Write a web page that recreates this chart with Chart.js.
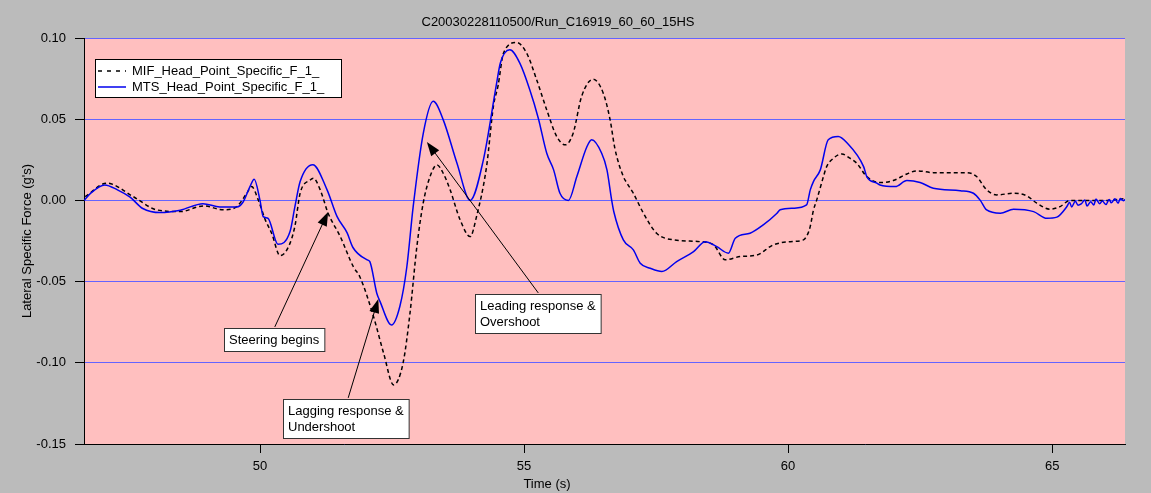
<!DOCTYPE html>
<html>
<head>
<meta charset="utf-8">
<title>Lateral Specific Force</title>
<script src="https://cdn.jsdelivr.net/npm/chart.js"></script>
<style>
  html, body { margin: 0; padding: 0; background: #bbbbbb; }
  canvas { display: block; }
</style>
</head>
<body>
<canvas id="chart" width="1151" height="493"></canvas>
<script>
// Labels
const chartTitle = "C20030228110500/Run_C16919_60_60_15HS";
const xTitle = "Time (s)";
const yTitle = "Lateral Specific Force (g's)";
const seriesNames = ["MIF_Head_Point_Specific_F_1_", "MTS_Head_Point_Specific_F_1_"];

// Axes
const xRange = [46.667, 66.38];
const xTicks = [50, 55, 60, 65];
const yTicks = [-0.15, -0.10, -0.05, 0.00, 0.05, 0.10];

// MIF (dashed black)
const mifTime = [46.69, 47.10, 47.60, 48.04, 48.49, 48.93, 49.31, 49.56, 49.75, 49.84,
  49.97, 50.10, 50.22, 50.38, 50.54, 50.66, 50.76, 50.95, 51.01, 51.14,
  51.29, 51.52, 51.77, 51.89, 52.15, 52.34, 52.53, 52.71, 52.84, 52.97,
  53.09, 53.22, 53.35, 53.47, 53.60, 53.79, 53.98, 54.10, 54.29, 54.42,
  54.51, 54.61, 54.86, 55.05, 55.24, 55.43, 55.62, 55.78, 55.93, 56.09,
  56.31, 56.50, 56.63, 56.72, 56.88, 56.95, 57.07, 57.26, 57.51, 57.83,
  58.33, 58.59, 58.81, 59.09, 59.41, 59.72, 60.04, 60.29, 60.36, 60.42,
  60.48, 60.54, 60.67, 60.73, 60.86, 61.02, 61.17, 61.30, 61.49, 61.74,
  61.99, 62.25, 62.44, 62.75, 63.38, 63.57, 63.76, 63.95, 64.27, 64.52,
  64.71, 64.96, 65.15, 65.34, 65.66, 66.04, 66.35];
const mifValue = [0.0023, 0.0106, 0.0023, -0.0058, -0.0069, -0.0034, -0.0058, -0.0038, 0.0044, 0.0085,
  0.0000, -0.0120, -0.0202, -0.0340, -0.0285, -0.0160, 0.0044, 0.0126, 0.0137, 0.0065,
  -0.0079, -0.0223, -0.0410, -0.0470, -0.0716, -0.0940, -0.1136, -0.1000, -0.0695, -0.0285,
  -0.0017, 0.0147, 0.0219, 0.0167, 0.0065, -0.0120, -0.0223, -0.0100, 0.0208, 0.0580,
  0.0710, 0.0906, 0.0972, 0.0906, 0.0742, 0.0557, 0.0393, 0.0342, 0.0414, 0.0640,
  0.0746, 0.0660, 0.0496, 0.0320, 0.0147, 0.0106, 0.0044, -0.0079, -0.0202, -0.0243,
  -0.0254, -0.0274, -0.0366, -0.0346, -0.0336, -0.0274, -0.0254, -0.0243, -0.0215, -0.0160,
  -0.0060, 0.0000, 0.0147, 0.0208, 0.0260, 0.0286, 0.0260, 0.0229, 0.0147, 0.0110,
  0.0122, 0.0163, 0.0182, 0.0171, 0.0171, 0.0147, 0.0065, 0.0034, 0.0044, 0.0028,
  -0.0017, -0.0054, -0.0038, 0.0000, 0.0000, 0.0000, 0.0010];

// MTS (solid blue)
const mtsTime = [46.67, 46.80, 47.06, 47.30, 47.54, 47.78, 48.11, 48.49, 48.92, 49.24,
  49.56, 49.68, 49.81, 49.89, 50.00, 50.06, 50.15, 50.34, 50.57, 50.66,
  50.76, 51.00, 51.27, 51.46, 51.65, 51.76, 52.03, 52.08, 52.21, 52.27,
  52.49, 52.65, 52.78, 52.90, 53.09, 53.28, 53.47, 53.73, 53.98, 54.23,
  54.48, 54.55, 54.73, 54.92, 55.11, 55.27, 55.43, 55.56, 55.68, 55.84,
  56.00, 56.19, 56.28, 56.47, 56.57, 56.66, 56.70, 56.88, 57.07, 57.20,
  57.39, 57.61, 57.89, 58.21, 58.43, 58.65, 58.87, 59.00, 59.28, 59.53,
  59.79, 59.85, 60.10, 60.35, 60.42, 60.48, 60.61, 60.76, 60.95, 61.11,
  61.43, 61.49, 61.68, 61.74, 62.03, 62.25, 62.50, 62.75, 63.26, 63.51,
  63.64, 63.76, 64.02, 64.27, 64.65, 64.90, 65.09, 65.28, 65.33, 65.37,
  65.44, 65.49, 65.55, 65.62, 65.66, 65.73, 65.79, 65.83, 65.90, 65.95,
  66.02, 66.08, 66.12, 66.19, 66.25, 66.29, 66.35, 66.38];
const mtsValue = [0.0000, 0.0046, 0.0095, 0.0065, 0.0020, -0.0050, -0.0075, -0.0060, -0.0020, -0.0040,
  -0.0040, -0.0010, 0.0085, 0.0130, 0.0000, -0.0100, -0.0110, -0.0270, -0.0190, -0.0040,
  0.0116, 0.0220, 0.0065, -0.0100, -0.0200, -0.0290, -0.0366, -0.0377, -0.0570, -0.0620,
  -0.0767, -0.0650, -0.0410, -0.0040, 0.0410, 0.0610, 0.0496, 0.0229, 0.0000, 0.0250,
  0.0720, 0.0845, 0.0927, 0.0845, 0.0680, 0.0506, 0.0290, 0.0188, 0.0044, 0.0000,
  0.0147, 0.0330, 0.0373, 0.0290, 0.0188, 0.0000, -0.0070, -0.0243, -0.0305, -0.0387,
  -0.0418, -0.0438, -0.0377, -0.0315, -0.0254, -0.0285, -0.0325, -0.0233, -0.0202, -0.0151,
  -0.0079, -0.0058, -0.0048, -0.0028, 0.0065, 0.0116, 0.0188, 0.0373, 0.0393, 0.0356,
  0.0208, 0.0147, 0.0106, 0.0095, 0.0085, 0.0122, 0.0110, 0.0075, 0.0060, 0.0044,
  0.0000, -0.0059, -0.0079, -0.0054, -0.0069, -0.0110, -0.0103, -0.0038, -0.0012, -0.0040,
  -0.0005, -0.0030, -0.0022, 0.0003, -0.0035, -0.0008, -0.0028, 0.0008, -0.0020, -0.0004,
  -0.0026, 0.0006, -0.0015, 0.0010, -0.0018, 0.0012, -0.0002, 0.0006];

// Callouts: arrow tip, arrow tail and box top-left, in data units
const notes = [
  { lines: ["Steering begins"], tip: [51.29, -0.0071], tail: [50.28, -0.0779], box: [49.32, -0.0785] },
  { lines: ["Lagging response &", "Undershoot"], tip: [52.24, -0.0607], tail: [51.67, -0.1216], box: [50.44, -0.1222] },
  { lines: ["Leading response &", "Overshoot"], tip: [53.16, 0.0360], tail: [55.27, -0.0570], box: [54.07, -0.0576] }
];

const FONT = "13px 'Liberation Sans', Arial, sans-serif";
Chart.defaults.font.family = "'Liberation Sans', Arial, sans-serif";
Chart.defaults.font.size = 13;
Chart.defaults.color = "#000";

function drawArrow(ctx, x0, y0, x1, y1) {
  const a = Math.atan2(y1 - y0, x1 - x0);
  const len = 14, half = 5;
  ctx.beginPath();
  ctx.moveTo(x0, y0);
  ctx.lineTo(x1 - Math.cos(a) * len * 0.8, y1 - Math.sin(a) * len * 0.8);
  ctx.stroke();
  ctx.beginPath();
  ctx.moveTo(x1, y1);
  ctx.lineTo(x1 - Math.cos(a) * len - Math.sin(a) * half, y1 - Math.sin(a) * len + Math.cos(a) * half);
  ctx.lineTo(x1 - Math.cos(a) * len + Math.sin(a) * half, y1 - Math.sin(a) * len - Math.cos(a) * half);
  ctx.closePath();
  ctx.fill();
}

const paper = {
  id: "paper",
  beforeDraw(chart) {
    const { ctx, chartArea: a } = chart;
    ctx.save();
    ctx.fillStyle = "#bbbbbb";
    ctx.fillRect(0, 0, chart.width, chart.height);
    ctx.fillStyle = "#ffbfbf";
    ctx.fillRect(a.left, a.top, a.right - a.left, a.bottom - a.top);
    ctx.restore();
  },
  afterDraw(chart) {
    const { ctx, scales } = chart;
    const X = v => scales.x.getPixelForValue(v);
    const Y = v => scales.y.getPixelForValue(v);
    ctx.save();
    ctx.font = FONT;
    ctx.fillStyle = "#000";
    ctx.textBaseline = "middle";

    // titles
    ctx.textAlign = "center";
    ctx.fillText(chartTitle, 558, 22);
    ctx.fillText(xTitle, 547, 484);
    ctx.save();
    ctx.translate(27, 241);
    ctx.rotate(-Math.PI / 2);
    ctx.fillText(yTitle, 0, 0);
    ctx.restore();

    // legend
    ctx.fillStyle = "#fff";
    ctx.fillRect(95.5, 59.5, 246, 38);
    ctx.strokeStyle = "#000";
    ctx.lineWidth = 1;
    ctx.strokeRect(95.5, 59.5, 246, 38);
    ctx.lineWidth = 1.5;
    ctx.setLineDash([4, 5]);
    ctx.beginPath(); ctx.moveTo(98, 71); ctx.lineTo(126, 71); ctx.stroke();
    ctx.setLineDash([]);
    ctx.strokeStyle = "#0000ee";
    ctx.beginPath(); ctx.moveTo(98, 87); ctx.lineTo(126, 87); ctx.stroke();
    ctx.fillStyle = "#000";
    ctx.textAlign = "left";
    ctx.fillText(seriesNames[0], 132, 71);
    ctx.fillText(seriesNames[1], 132, 87);

    // callouts
    notes.forEach(n => {
      const bx = Math.round(X(n.box[0])) + 0.5, by = Math.round(Y(n.box[1])) + 0.5;
      const w = Math.max(...n.lines.map(l => ctx.measureText(l).width)) + 10;
      const h = n.lines.length * 16 + 7;
      ctx.strokeStyle = "#000";
      ctx.fillStyle = "#000";
      ctx.lineWidth = 1;
      drawArrow(ctx, X(n.tail[0]), Y(n.tail[1]), X(n.tip[0]), Y(n.tip[1]));
      ctx.fillStyle = "#fff";
      ctx.fillRect(bx, by, w, h);
      ctx.strokeStyle = "#333";
      ctx.strokeRect(bx, by, w, h);
      ctx.fillStyle = "#000";
      n.lines.forEach((l, i) => ctx.fillText(l, bx + 4.5, by + 11.5 + i * 16));
    });
    ctx.restore();
  }
};

new Chart(document.getElementById("chart"), {
  type: "line",
  data: {
    datasets: [
      {
        label: seriesNames[0],
        data: mifTime.map((t, i) => ({ x: t, y: mifValue[i] })),
        borderColor: "#000",
        borderWidth: 1.5,
        borderDash: [4, 3],
        pointRadius: 0,
        cubicInterpolationMode: "monotone",
        fill: false,
        order: 1
      },
      {
        label: seriesNames[1],
        data: mtsTime.map((t, i) => ({ x: t, y: mtsValue[i] })),
        borderColor: "#0000ee",
        borderWidth: 1.5,
        pointRadius: 0,
        cubicInterpolationMode: "monotone",
        fill: false,
        order: 0
      }
    ]
  },
  options: {
    responsive: false,
    animation: false,
    devicePixelRatio: 1,
    layout: { padding: { top: 38, right: 26, left: 0, bottom: 0 } },
    plugins: { legend: { display: false }, tooltip: { enabled: false }, title: { display: false } },
    scales: {
      x: {
        type: "linear",
        min: xRange[0],
        max: xRange[1],
        afterBuildTicks: s => { s.ticks = xTicks.map(v => ({ value: v })); },
        afterFit: s => { s.height = 49; },
        ticks: { padding: 6, maxRotation: 0, callback: v => String(v) },
        grid: { drawOnChartArea: false, tickLength: 9, tickColor: "#000" },
        border: { color: "#000", width: 1 }
      },
      y: {
        min: yTicks[0],
        max: yTicks[yTicks.length - 1],
        afterBuildTicks: s => { s.ticks = yTicks.map(v => ({ value: v })); },
        afterFit: s => { s.width = 84; },
        ticks: { padding: 9, callback: v => v.toFixed(2) },
        grid: { color: "#6464ff", lineWidth: 1, tickLength: 9, tickColor: "#000" },
        border: { color: "#000", width: 1 }
      }
    }
  },
  plugins: [paper]
});
</script>
</body>
</html>
